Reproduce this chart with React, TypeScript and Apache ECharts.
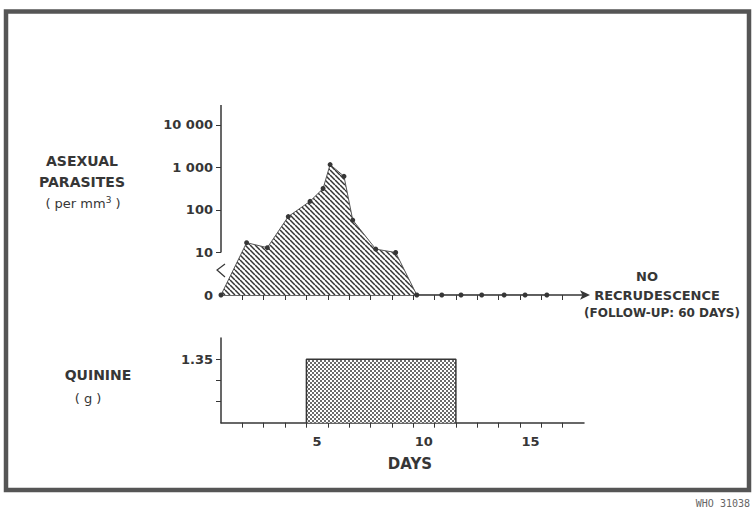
import React, { useEffect, useRef } from "react";
import * as echarts from "echarts";

// ---- data ----
const dayCount = 17;
// sampling times (days from start of day 1) and asexual parasite counts per mm3
const sampleDays = [0, 1.2, 2.17, 3.15, 4.17, 4.78, 5.11, 5.76, 6.17, 7.25, 8.18, 9.17, 10.34, 11.24, 12.21, 13.26, 14.24, 15.26];
const parasites = [0, 17, 13, 70, 160, 320, 1170, 620, 58, 12, 10, 0, 0, 0, 0, 0, 0, 0];
const yLogTicks = [0, 1, 2, 3, 4];
const yTickLabels = ["0", "10", "100", "1 000", "10 000"];
// quinine dose (g) per day, days 1..17
const quinineDose = [0, 0, 0, 0, 1.35, 1.35, 1.35, 1.35, 1.35, 1.35, 1.35, 0, 0, 0, 0, 0, 0];
const quinineTicks = [0.45, 0.9, 1.35];
const quinineLabels = [1.35];
const dayLabels = [5, 10, 15];

const INK = "#363636";
const FONT = "DejaVu Sans";

function makeHatch(): HTMLCanvasElement {
  const s = 5;
  const c = document.createElement("canvas");
  c.width = s;
  c.height = s;
  const g = c.getContext("2d")!;
  g.fillStyle = "#ffffff";
  g.fillRect(0, 0, s, s);
  g.strokeStyle = "#333333";
  g.lineWidth = 1.5;
  for (const o of [-s, 0, s]) {
    g.beginPath();
    g.moveTo(o, 0);
    g.lineTo(o + s, s);
    g.stroke();
  }
  return c;
}

function makeDots(): HTMLCanvasElement {
  const s = 4;
  const c = document.createElement("canvas");
  c.width = s;
  c.height = s;
  const g = c.getContext("2d")!;
  g.fillStyle = "#ffffff";
  g.fillRect(0, 0, s, s);
  g.fillStyle = "#6a6a6a";
  g.fillRect(0, 0, 2, 2);
  g.fillRect(2, 2, 2, 2);
  return c;
}

export default function App() {
  const ref = useRef<HTMLDivElement>(null);
  useEffect(() => {
    document.body.style.margin = "0";
    const chart = echarts.init(ref.current!, undefined, { renderer: "svg" });
    const hatch = makeHatch();
    const dots = makeDots();

    const toLog = (v: number) => (v > 0 ? Math.log10(v) : 0);
    const parasiteData = sampleDays.map((d, i) => [d, toLog(parasites[i])]);

    let first = -1;
    let last = -1;
    quinineDose.forEach((v, i) => {
      if (v > 0) {
        if (first < 0) first = i;
        last = i;
      }
    });
    const dose = quinineDose[first];
    const quinineData = [
      [first, 0],
      [first, dose],
      [last + 1, dose],
      [last + 1, 0],
    ];
    const yTopMax = 4.47;
    const innerTicks = Array.from({ length: dayCount - 1 }, (_, i) => i + 1);

    const labelStyle = { color: INK, fontFamily: FONT, fontWeight: "bold" as const, fontSize: 13 };
    const txt = (x: number, y: number, text: string, size = 14, weight = "bold", align = "center", extra: any = {}) => ({
      type: "text",
      x,
      y,
      style: {
        text,
        fill: INK,
        font: `${weight} ${size}px "${FONT}"`,
        textAlign: align,
        textVerticalAlign: "middle",
        ...extra,
      },
    });

    chart.setOption({
      animation: false,
      backgroundColor: "#ffffff",
      grid: [
        { left: 221, right: 171, top: 105, bottom: 215 },
        { left: 221, right: 171, top: 338, bottom: 87.3 },
      ],
      xAxis: [
        {
          type: "value",
          gridIndex: 0,
          min: 0,
          max: dayCount,
          interval: 1,
          axisLine: { show: true, lineStyle: { color: INK, width: 1.5 }, symbol: ["none", "arrow"], symbolSize: [7, 10], symbolOffset: [0, 6] },
          axisTick: { show: true, length: 5, customValues: innerTicks, lineStyle: { color: INK, width: 1 } },
          axisLabel: { show: false },
          splitLine: { show: false },
        },
        {
          type: "value",
          gridIndex: 1,
          min: 0,
          max: dayCount,
          interval: 1,
          axisLine: { show: true, lineStyle: { color: INK, width: 1.5 } },
          axisTick: { show: true, length: 5, customValues: innerTicks, lineStyle: { color: INK, width: 1 } },
          axisLabel: {
            show: true,
            customValues: dayLabels.map((d) => d - 0.5),
            formatter: (v: number) => String(Math.round(v + 0.5)),
            margin: 12,
            ...labelStyle,
          },
          splitLine: { show: false },
        },
      ],
      yAxis: [
        {
          type: "value",
          gridIndex: 0,
          min: 0,
          max: yTopMax,
          axisLine: { show: false },
          axisTick: { show: true, length: 5, customValues: yLogTicks.slice(1), lineStyle: { color: INK, width: 1 } },
          axisLabel: {
            show: true,
            customValues: yLogTicks,
            formatter: (v: number) => yTickLabels[yLogTicks.indexOf(Math.round(v))] ?? "",
            margin: 8,
            ...labelStyle,
          },
          splitLine: { show: false },
        },
        {
          type: "value",
          gridIndex: 1,
          min: 0,
          max: 1.8,
          axisLine: { show: true, lineStyle: { color: INK, width: 1.5 } },
          axisTick: { show: true, length: 5, customValues: quinineTicks, lineStyle: { color: INK, width: 1 } },
          axisLabel: {
            show: true,
            customValues: quinineLabels,
            formatter: (v: number) => v.toFixed(2),
            margin: 8,
            ...labelStyle,
          },
          splitLine: { show: false },
        },
      ],
      series: [
        {
          type: "line",
          xAxisIndex: 0,
          yAxisIndex: 0,
          data: parasiteData,
          symbol: "circle",
          symbolSize: 5,
          showSymbol: true,
          itemStyle: { color: INK },
          lineStyle: { color: "#555", width: 1 },
          areaStyle: {
            opacity: 1,
            color: { image: hatch, repeat: "repeat", imageWidth: 5, imageHeight: 5 },
          },
          markLine: {
            silent: true,
            symbol: ["none", "none"],
            label: { show: false },
            lineStyle: { color: INK, width: 1.5, type: "solid" },
            data: [[{ coord: [0, yLogTicks[1]] }, { coord: [0, yTopMax] }]],
          },
          z: 3,
        },
        {
          type: "line",
          xAxisIndex: 1,
          yAxisIndex: 1,
          data: quinineData,
          symbol: "none",
          lineStyle: { color: INK, width: 1.5 },
          areaStyle: {
            opacity: 1,
            color: { image: dots, repeat: "repeat", imageWidth: 4, imageHeight: 4 },
          },
          z: 3,
        },
      ],
      graphic: [
        {
          type: "rect",
          shape: { x: 6, y: 11.5, width: 743, height: 478.5 },
          style: { fill: "none", stroke: "#555", lineWidth: 4.5 },
          silent: true,
        },
        {
          type: "polyline",
          shape: { points: [[225, 264], [217, 270], [225, 277]] },
          style: { stroke: INK, lineWidth: 1.2, fill: "none" },
        },
        txt(82, 161, "ASEXUAL", 14),
        txt(82, 182, "PARASITES", 14),
        {
          type: "text",
          x: 83,
          y: 203,
          style: {
            text: "( per mm{sup|3} )",
            fill: INK,
            font: `normal 13px "${FONT}"`,
            textAlign: "center",
            textVerticalAlign: "middle",
            rich: {
              sup: { fontSize: 9, fontFamily: FONT, fill: INK, verticalAlign: "top", padding: [0, 0, 6, 0] },
            },
          },
        },
        txt(98, 375, "QUININE", 14),
        txt(88, 398, "( g )", 13, "normal"),
        txt(647, 276, "NO", 13),
        txt(657, 295, "RECRUDESCENCE", 13),
        txt(662, 313, "(FOLLOW-UP: 60 DAYS)", 12),
        txt(410, 464, "DAYS", 15),
        txt(750, 503, "WHO 31038", 10, "normal", "right", { font: `normal 10px "DejaVu Sans Mono"`, fill: "#666" }),
      ],
    });
    return () => chart.dispose();
  }, []);
  return <div ref={ref} style={{ position: "fixed", left: 0, top: 0, width: 755, height: 510 }} />;
}
